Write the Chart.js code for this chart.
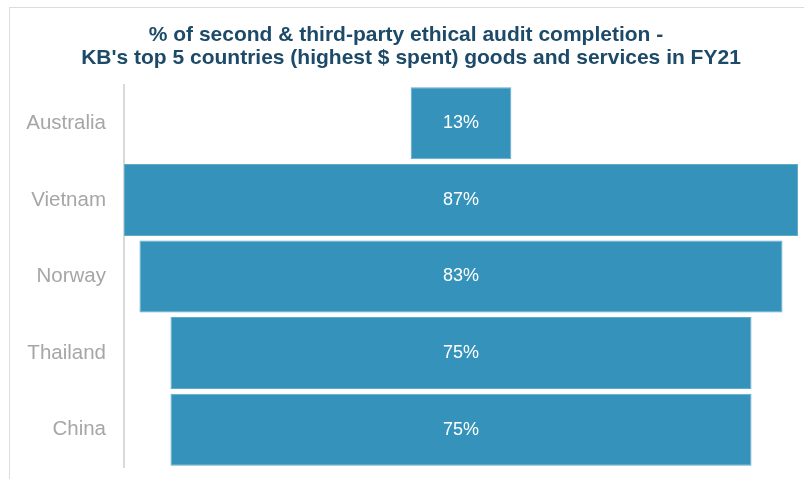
<!DOCTYPE html>
<html>
<head>
<meta charset="utf-8">
<script src="https://cdn.jsdelivr.net/npm/chart.js@4.4.1/dist/chart.umd.min.js"></script>
<style>
  html, body { margin:0; padding:0; background:#fff; }
  body { width:804px; height:479px; position:relative; overflow:hidden; }
  #frame { position:absolute; left:9px; top:7px; width:820px; height:500px; border:1px solid #dcdcdc; box-sizing:border-box; }
  #wrap { position:absolute; left:0; top:0; width:804px; height:487px; }
  canvas { display:block; }
</style>
</head>
<body>
<div id="frame"></div>
<div id="wrap"><canvas id="c" width="804" height="487"></canvas></div>
<script>
const categories = ["Australia", "Vietnam", "Norway", "Thailand", "China"];
const values = [13, 87, 83, 75, 75];
const titleLines = ["% of second & third-party ethical audit completion -", "KB's top 5 countries (highest $ spent) goods and services in FY21"];

const half = Math.max(...values) / 2;
const funnelData = values.map(v => [-v / 2, v / 2]);

const titlePlugin = {
  id: 'customTitle',
  afterDraw(chart) {
    const ctx = chart.ctx;
    ctx.save();
    ctx.fillStyle = '#1c4a68';
    ctx.font = 'bold 21px "Liberation Sans", Arial, sans-serif';
    ctx.textAlign = 'center';
    ctx.textBaseline = 'alphabetic';
    ctx.fillText(titleLines[0], 406, 41);
    ctx.fillText(titleLines[1], 411, 64);
    ctx.restore();
  }
};

const labelPlugin = {
  id: 'barLabels',
  afterDatasetsDraw(chart) {
    const ctx = chart.ctx;
    const meta = chart.getDatasetMeta(0);
    ctx.save();
    ctx.fillStyle = '#ffffff';
    ctx.font = '18px "Liberation Sans", Arial, sans-serif';
    ctx.textAlign = 'center';
    ctx.textBaseline = 'middle';
    meta.data.forEach((bar, i) => {
      const cx = (bar.x + bar.base) / 2;
      ctx.fillText(values[i] + '%', cx, bar.y);
    });
    ctx.restore();
  }
};

new Chart(document.getElementById('c'), {
  type: 'bar',
  data: {
    labels: categories,
    datasets: [{
      data: funnelData,
      backgroundColor: '#3593bb',
      borderColor: '#62abcb',
      borderWidth: 1,
      borderSkipped: false,
      barPercentage: 0.94,
      categoryPercentage: 1.0
    }]
  },
  options: {
    indexAxis: 'y',
    responsive: false,
    animation: false,
    devicePixelRatio: 1,
    layout: { padding: { top: 85, bottom: 4, left: 0, right: 6 } },
    plugins: {
      legend: { display: false },
      tooltip: { enabled: false },
      title: { display: false }
    },
    scales: {
      x: {
        display: false,
        min: -half,
        max: half
      },
      y: {
        afterFit(scale) { scale.width = 124; },
        grid: { display: false, drawTicks: false },
        border: { display: true, color: '#d9d9d9', width: 2 },
        ticks: {
          color: '#a6a6a6',
          padding: 18,
          font: { family: '"Liberation Sans", Arial, sans-serif', size: 20.5, lineHeight: 0.1 }
        }
      }
    }
  },
  plugins: [titlePlugin, labelPlugin]
});
</script>
</body>
</html>
